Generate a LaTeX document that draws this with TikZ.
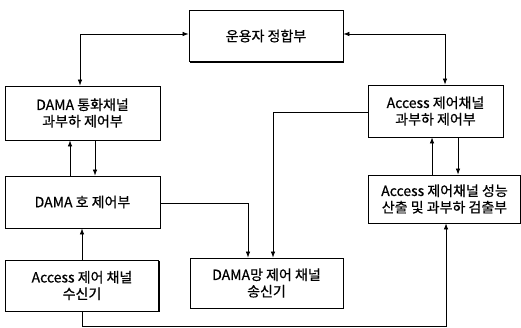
\documentclass[tikz,border=0pt]{standalone}
\usepackage{fontspec}
\newfontfamily\kr[FakeBold=0.6]{Noto Sans CJK KR}
\usetikzlibrary{arrows.meta,shadows}
\begin{document}
\begin{tikzpicture}[x=1pt,y=-1pt,
  blk/.style={draw,line width=0.8pt,fill=white,align=center,inner sep=0pt,
    font=\kr\fontsize{14}{16.5}\selectfont,
    general shadow={shadow xshift=1.4pt,shadow yshift=-1.4pt,fill=black}},
  conn/.style={line width=0.7pt},
  arr/.style={conn,-{Latex[length=6pt,width=4.5pt]}},
  biarr/.style={conn,{Latex[length=6pt,width=4.5pt]}-{Latex[length=6pt,width=4.5pt]}}]
\useasboundingbox (0,0) rectangle (521,328);
\node[blk,minimum width=154pt,minimum height=51pt] (op) at (266,36) {운용자 정합부};
\node[blk,minimum width=155pt,minimum height=54pt] (dtc) at (82.5,113) {DAMA 통화채널\\과부하 제어부};
\node[blk,minimum width=135pt,minimum height=52pt] (acc) at (435.5,111) {Access 제어채널\\과부하 제어부};
\node[blk,minimum width=155pt,minimum height=52pt] (dcc) at (82.5,202) {DAMA 호 제어부};
\node[blk,minimum width=153pt,minimum height=51pt] (rx) at (82,285.5) {Access 제어 채널\\수신기};
\node[blk,minimum width=153pt,minimum height=50pt] (tx) at (266.5,283) {DAMA망 제어 채널\\송신기};
\node[blk,minimum width=152pt,minimum height=48pt] (perf) at (444.5,199) {Access 제어채널 성능\\산출 및 과부하 검출부};
\coordinate (bl) at (82,326.5);
\coordinate (br) at (446,326.5);
% top box connections
\draw[biarr] (op.west |- 0,34) -| (80,0 |- dtc.north);
\draw[biarr] (op.east |- 0,34) -| (445,0 |- acc.north);
% DAMA 통화 <-> DAMA 호
\draw[arr] (70,0 |- dcc.north) -- (70,0 |- dtc.south);
\draw[arr] (95,0 |- dtc.south) -- (95,0 |- dcc.north);
% Access 과부하 <-> 성능
\draw[arr] (432,0 |- perf.north) -- (432,0 |- acc.south);
\draw[arr] (458,0 |- acc.south) -- (458,0 |- perf.north);
% to transmitter
\draw[arr] (acc.west |- 0,112) -| (273,0 |- tx.north);
\draw[arr] (dcc.east |- 0,203) -| (248,0 |- tx.north);
% receiver to call control
\draw[arr] (82,0 |- rx.north) -- (82,0 |- dcc.south);
% receiver to perf
\draw[arr] (82,0 |- rx.south) -- (bl) -- (br) -- (446,0 |- perf.south);
\end{tikzpicture}
\end{document}
